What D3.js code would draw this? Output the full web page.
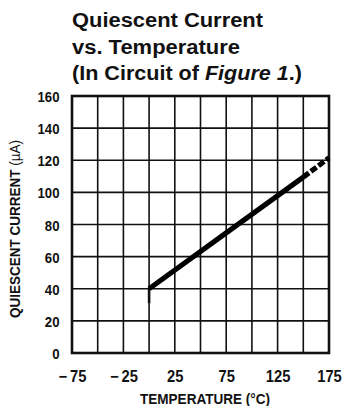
<!DOCTYPE html>
<html>
<head>
<meta charset="utf-8">
<script src="https://cdn.jsdelivr.net/npm/d3@7/dist/d3.min.js"></script>
<style>
  html, body { margin: 0; padding: 0; background: #fff; }
  svg { display: block; }
  text { font-family: "Liberation Sans", Arial, Helvetica, sans-serif; fill: #111; }
</style>
</head>
<body>
<svg id="chart" width="342" height="406"></svg>
<script>
// Quiescent current vs. temperature
const titleLines = ["Quiescent Current", "vs. Temperature"];
const yTicks = [0, 20, 40, 60, 80, 100, 120, 140, 160];
const xTicks = [-75, -25, 25, 75, 125, 175];
const xGrid = [-75, -50, -25, 0, 25, 50, 75, 100, 125, 150, 175];

// measured curve (solid), extrapolated tail (dashed), start-up segment
const tempSolid = [0, 75, 150];
const currentSolid = [40, 74.8, 109.5];
const tempDashed = [150, 175];
const currentDashed = [109.5, 121.5];
const tempStart = [0, 0];
const currentStart = [40, 31];

const svg = d3.select("#chart");
const plotL = 72, plotR = 329, plotT = 96, plotB = 353;

const x = d3.scaleLinear().domain([-75, 175]).range([plotL, plotR]);
const y = d3.scaleLinear().domain([0, 160]).range([plotB, plotT]);

// title
const title = svg.append("g").attr("font-weight", "bold").attr("font-size", 20);
title.append("text").attr("x", 72).attr("y", 27)
  .attr("textLength", 191).attr("lengthAdjust", "spacingAndGlyphs").text(titleLines[0]);
title.append("text").attr("x", 72).attr("y", 53.5)
  .attr("textLength", 168).attr("lengthAdjust", "spacingAndGlyphs").text(titleLines[1]);
const t3 = title.append("text").attr("x", 72).attr("y", 80)
  .attr("textLength", 230).attr("lengthAdjust", "spacingAndGlyphs");
t3.append("tspan").text("(In Circuit of ");
t3.append("tspan").attr("font-style", "italic").text("Figure 1");
t3.append("tspan").text(".)");

// grid
const grid = svg.append("g").attr("stroke", "#111").attr("stroke-width", 1.6);
grid.selectAll("line.v").data(xGrid).join("line").attr("class", "v")
  .attr("x1", d => x(d)).attr("x2", d => x(d))
  .attr("y1", plotT).attr("y2", plotB);
grid.selectAll("line.h").data(yTicks).join("line").attr("class", "h")
  .attr("x1", plotL).attr("x2", plotR)
  .attr("y1", d => y(d)).attr("y2", d => y(d));

// frame
svg.append("rect")
  .attr("x", plotL).attr("y", plotT)
  .attr("width", plotR - plotL).attr("height", plotB - plotT)
  .attr("fill", "none").attr("stroke", "#111").attr("stroke-width", 2.6);

// y axis labels (condensed bold)
const yScaleX = 0.85;
const yAxis = svg.append("g").attr("transform", `translate(${plotL},0)`)
  .call(d3.axisLeft(y).tickValues(yTicks).tickSize(0).tickPadding(0));
yAxis.select(".domain").remove();
yAxis.selectAll("text")
  .attr("font-size", 15.5).attr("font-weight", "bold").attr("fill", "#111")
  .attr("x", -12.5 / yScaleX).attr("dy", "0.36em")
  .attr("transform", `scale(${yScaleX},1)`);

// x axis labels
const fmt = d => d < 0 ? "\u2212\u2009" + Math.abs(d) : String(d);
const xAxis = svg.append("g").attr("transform", `translate(0,${plotB})`)
  .call(d3.axisBottom(x).tickValues(xTicks).tickSize(0).tickPadding(0).tickFormat(fmt));
xAxis.select(".domain").remove();
xAxis.selectAll("text")
  .attr("font-size", 16).attr("font-weight", "bold").attr("fill", "#111")
  .attr("y", 29).attr("dy", 0)
  .attr("transform", "scale(0.92,1)");

// axis titles
svg.append("text")
  .attr("x", 205).attr("y", 403.5)
  .attr("text-anchor", "middle").attr("font-weight", "bold").attr("font-size", 14.5)
  .attr("textLength", 130).attr("lengthAdjust", "spacingAndGlyphs")
  .text("TEMPERATURE (\u00B0C)");

const yt = svg.append("text")
  .attr("transform", "translate(19.5,229) rotate(-90)")
  .attr("text-anchor", "middle").attr("font-weight", "bold").attr("font-size", 14.5)
  .attr("textLength", 178).attr("lengthAdjust", "spacingAndGlyphs");
yt.append("tspan").text("QUIESCENT CURRENT ");
yt.append("tspan").attr("font-weight", "normal").text("(\u00B5A)");

// curves
const line = d3.line().x(d => x(d[0])).y(d => y(d[1]));
const pairs = (a, b) => a.map((t, i) => [t, b[i]]);

svg.append("path").datum(pairs(tempStart, currentStart))
  .attr("d", line).attr("fill", "none").attr("stroke", "#111")
  .attr("stroke-width", 2.6).attr("stroke-linecap", "butt");

svg.append("path").datum(pairs(tempSolid, currentSolid))
  .attr("d", line).attr("fill", "none").attr("stroke", "#000")
  .attr("stroke-width", 5.2).attr("stroke-linecap", "butt").attr("stroke-linejoin", "round");

svg.append("path").datum(pairs(tempDashed, currentDashed))
  .attr("d", line).attr("fill", "none").attr("stroke", "#000")
  .attr("stroke-width", 5.2).attr("stroke-dasharray", "7,2.5");
</script>
</body>
</html>
